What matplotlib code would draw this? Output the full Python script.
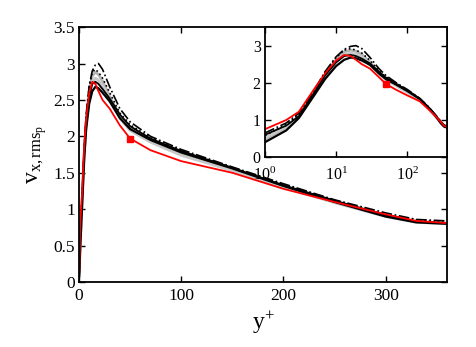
"""Streamwise particle rms velocity profiles, linear main axes + log inset."""

import matplotlib

matplotlib.use("Agg")
import matplotlib.pyplot as plt

plt.rcParams["font.family"] = "Liberation Serif"
plt.rcParams["mathtext.fontset"] = "custom"
plt.rcParams["mathtext.rm"] = "Liberation Serif"
plt.rcParams["mathtext.it"] = "Liberation Serif"

# y+ sampling shared by all profiles
yplus = [0.2, 1, 2, 3, 5, 7, 10, 13, 16, 19, 23, 30, 40, 50, 70, 100, 150, 200, 250, 300, 330, 360]

red = [0.15, 0.75, 1.0, 1.22, 1.85, 2.25, 2.6, 2.75, 2.72, 2.62, 2.5, 2.38, 2.15, 1.97, 1.81, 1.66, 1.5, 1.28, 1.1, 0.93, 0.84, 0.81]
black_a = [0.08, 0.40, 0.72, 1.05, 1.68, 2.1, 2.45, 2.62, 2.68, 2.66, 2.6, 2.48, 2.25, 2.1, 1.95, 1.78, 1.56, 1.32, 1.1, 0.9, 0.82, 0.8]
black_b = [0.12, 0.60, 0.85, 1.1, 1.75, 2.2, 2.55, 2.72, 2.75, 2.72, 2.65, 2.52, 2.3, 2.14, 1.97, 1.8, 1.57, 1.33, 1.12, 0.92, 0.83, 0.81]
dashdot = [0.13, 0.65, 0.92, 1.18, 1.82, 2.3, 2.7, 2.9, 2.98, 3.0, 2.92, 2.68, 2.38, 2.2, 2.0, 1.82, 1.58, 1.35, 1.13, 0.95, 0.86, 0.84]
dotted = [0.12, 0.58, 0.88, 1.15, 1.8, 2.28, 2.68, 2.88, 2.92, 2.88, 2.8, 2.6, 2.32, 2.16, 1.98, 1.8, 1.57, 1.34, 1.12, 0.93, 0.85, 0.82]
gray_a = [0.1, 0.48, 0.8, 1.08, 1.72, 2.2, 2.62, 2.83, 2.88, 2.85, 2.76, 2.55, 2.28, 2.12, 1.95, 1.77, 1.55, 1.31, 1.1, 0.91, 0.83, 0.81]
gray_b = [0.1, 0.52, 0.82, 1.1, 1.74, 2.18, 2.56, 2.75, 2.8, 2.77, 2.7, 2.5, 2.25, 2.08, 1.92, 1.74, 1.53, 1.3, 1.09, 0.9, 0.82, 0.8]

marker_y = [50]
marker_v = [1.97]

xticks = [0, 100, 200, 300]
yticks = [0, 0.5, 1, 1.5, 2, 2.5, 3, 3.5]
ytick_labels = ["0", "0.5", "1", "1.5", "2", "2.5", "3", "3.5"]
inset_yticks = [0, 1, 2, 3]


def draw(ax):
    ax.plot(yplus, gray_a, color="#b4b4b4", lw=2.0)
    ax.plot(yplus, gray_b, color="#c8c8c8", lw=2.0)
    ax.plot(yplus, dotted, color="black", lw=1.2, ls=":")
    ax.plot(yplus, dashdot, color="black", lw=1.2, ls="-.")
    ax.plot(yplus, black_b, color="black", lw=1.3)
    ax.plot(yplus, black_a, color="black", lw=1.6)
    ax.plot(yplus, red, color="red", lw=1.3)
    ax.plot(marker_y, marker_v, ls="none", marker="s", ms=4.5, color="red")


def style(ax, size, xpad=3):
    ax.tick_params(direction="in", top=True, right=True, length=4,
                   width=1.0, labelsize=size, pad=3)
    ax.tick_params(axis="x", pad=xpad)
    ax.tick_params(which="minor", direction="in", top=True, right=True, length=0)
    for s in ax.spines.values():
        s.set_linewidth(1.3)


fig = plt.figure(figsize=(4.76, 3.47), dpi=100)
ax = fig.add_axes([0.166, 0.187, 0.773, 0.735])
draw(ax)
ax.set_xlim(0, 360)
ax.set_ylim(0, 3.5)
ax.set_xticks(xticks)
ax.set_yticks(yticks)
ax.set_yticklabels(ytick_labels)
style(ax, 12.5, xpad=4)
ax.set_xlabel(r"$\mathrm{y^{+}}$", fontsize=17, labelpad=4)
ax.set_ylabel(r"$\mathrm{v_{x,rms_{p}}}$", fontsize=17, labelpad=2)

ins = fig.add_axes([0.166 + 0.773 * 0.505, 0.187 + 0.735 * 0.49,
                    0.773 * 0.495, 0.735 * 0.51])
draw(ins)
ins.set_xscale("log")
ins.set_xlim(1, 360)
ins.set_ylim(0, 3.5)
ins.set_yticks(inset_yticks)
style(ins, 11.5, xpad=7)

fig.savefig("out.png", dpi=100)
